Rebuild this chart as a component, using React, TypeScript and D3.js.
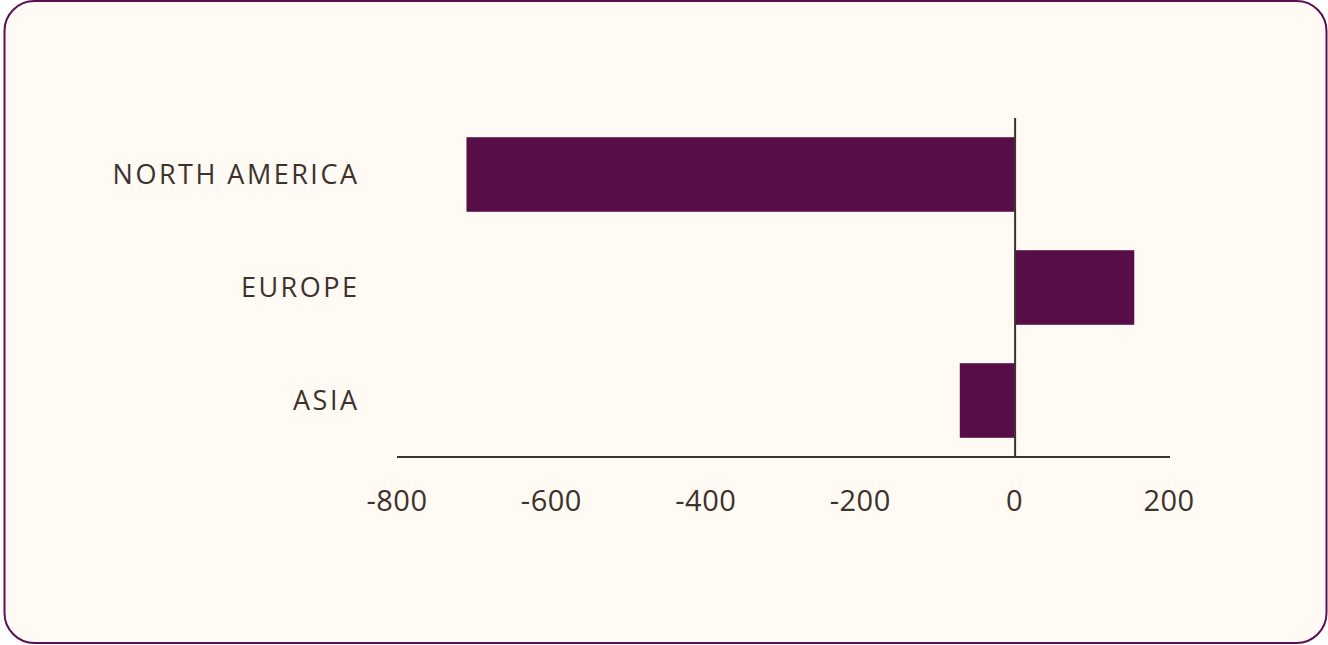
import React, {useEffect, useRef} from 'react';
import * as d3 from 'd3';

const regions = ['NORTH AMERICA', 'EUROPE', 'ASIA'];
const values = [-710, 155, -71];
const xTicks = [-800, -600, -400, -200, 0, 200];

const WIDTH = 1328;
const HEIGHT = 645;
const BAR_COLOR = '#570d48';
const TEXT_COLOR = '#3d322c';
const BG = '#fffaf3';

const App: React.FC = () => {
    const svgRef = useRef<SVGSVGElement | null>(null);

    useEffect(() => {
        if (svgRef.current) {
            drawChart();
        }
    }, []);

    const drawChart = () => {
        const svg = d3.select(svgRef.current);
        svg.selectAll('*').remove();

        // card
        svg.append('rect')
            .attr('x', 4.5)
            .attr('y', 1)
            .attr('width', 1322)
            .attr('height', 642)
            .attr('rx', 30)
            .attr('fill', BG)
            .attr('stroke', '#5a1050')
            .attr('stroke-width', 2);

        const x = d3.scaleLinear().domain([-800, 200]).range([397, 1169]);
        const y = d3.scaleBand<string>()
            .domain(regions)
            .range([118, 457])
            .paddingInner(0.34)
            .paddingOuter(0.17);

        const data = regions.map((r, i) => ({region: r, value: values[i]}));

        svg.append('g')
            .selectAll('rect')
            .data(data)
            .enter()
            .append('rect')
            .attr('x', (d) => x(Math.min(0, d.value)))
            .attr('y', (d) => y(d.region) as number)
            .attr('width', (d) => Math.abs(x(d.value) - x(0)))
            .attr('height', y.bandwidth())
            .attr('fill', BAR_COLOR);

        // zero line
        svg.append('line')
            .attr('x1', x(0) + 0.5)
            .attr('x2', x(0) + 0.5)
            .attr('y1', 118)
            .attr('y2', 457)
            .attr('stroke', TEXT_COLOR)
            .attr('stroke-width', 2);

        // x axis line
        svg.append('line')
            .attr('x1', 397)
            .attr('x2', 1170)
            .attr('y1', 457)
            .attr('y2', 457)
            .attr('stroke', TEXT_COLOR)
            .attr('stroke-width', 2);

        svg.append('g')
            .selectAll('text')
            .data(xTicks)
            .enter()
            .append('text')
            .attr('x', (d) => x(d))
            .attr('y', 511)
            .attr('text-anchor', 'middle')
            .style('font-family', '"Open Sans", sans-serif')
            .style('font-size', '29px')
            .style('letter-spacing', '0.5px')
            .style('fill', TEXT_COLOR)
            .text((d) => String(d));

        svg.append('g')
            .selectAll('text')
            .data(regions)
            .enter()
            .append('text')
            .attr('x', 359.5)
            .attr('y', (d) => (y(d) as number) + y.bandwidth() / 2)
            .attr('dy', '0.36em')
            .attr('text-anchor', 'end')
            .style('font-family', '"Open Sans", sans-serif')
            .style('font-size', '27px')
            .style('letter-spacing', '2.5px')
            .style('fill', TEXT_COLOR)
            .text((d) => d);
    };

    return (
        <svg
            ref={svgRef}
            width={WIDTH}
            height={HEIGHT}
            style={{position: 'absolute', left: 0, top: 0, background: '#ffffff'}}
        />
    );
};

export default App;
